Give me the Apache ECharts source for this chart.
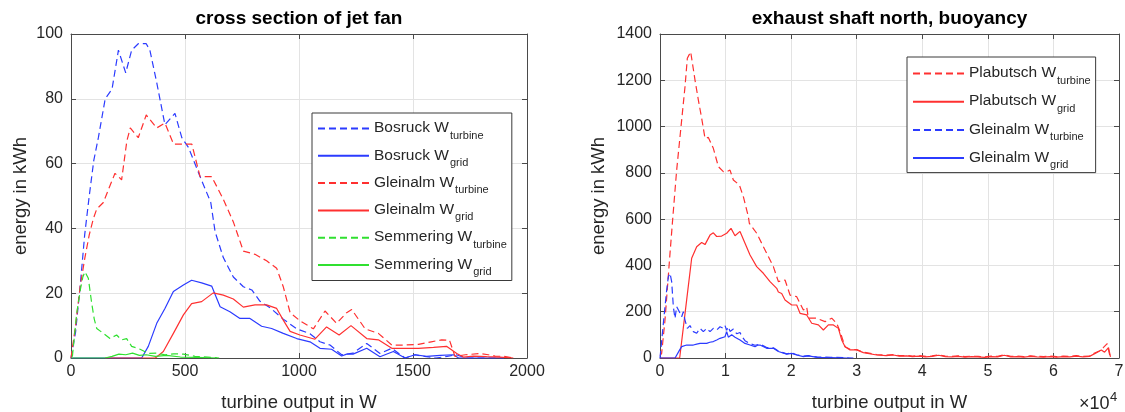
<!DOCTYPE html>
<html>
<head>
<meta charset="utf-8">
<script src="https://cdn.jsdelivr.net/npm/echarts@6/dist/echarts.min.js"></script>
<style>
html,body{margin:0;padding:0;background:#fff;}
#c{width:1125px;height:412px;}
</style>
</head>
<body>
<div id="c"></div>
<script>
// ---------- DATA (left: cross section of jet fan) ----------
const leftXTicks = [0, 500, 1000, 1500, 2000];
const leftYTicks = [0, 20, 40, 60, 80, 100];
const bosruckTurbine = [[0,0],[20,8],[40,22],[60,38],[80,50],[100,61],[120,68],[150,80],[180,83],[208,95],[240,88],[266,95],[295,97],[330,97],[346,95],[376,85],[412,72],[456,75.5],[486,68],[515,65],[566,56],[613,48],[632,39],[668,31],[712,25],[756,22],[793,21],[829,17.5],[873,15.5],[931,12],[990,9],[1048,7.5],[1092,5],[1136,4],[1187,1],[1237,1.5],[1297,4.5],[1355,1.4],[1407,3],[1465,0],[1509,1],[1550,0.5],[1600,0],[1650,0.5],[1690,1],[1730,0],[1900,0]];
const bosruckGrid = [[0,0],[300,0],[310,0],[339,3.6],[376,10.7],[412,15.3],[449,20.5],[493,22.5],[529,24],[573,23.2],[617,22.2],[654,15.8],[697,14.3],[741,12.2],[785,12.2],[836,9.8],[880,9.1],[931,7.6],[990,6],[1048,5],[1092,3],[1143,2.7],[1187,0.6],[1209,1.2],[1237,1.2],[1297,3],[1355,0.4],[1414,2],[1465,0],[1509,1],[1560,0.5],[1620,0.8],[1677,1],[1700,0],[1900,0]];
const gleinalmTurbineL = [[0,0],[20,10],[40,22],[61,31],[80,38],[98,43],[113,46],[142,48],[170,53],[193,57],[222,55],[245,67],[260,71],[295,68],[330,75],[376,71],[412,72.5],[450,66],[500,66],[530,66],[566,56],[617,56],[668,49],[712,42],[734,37.5],[756,33],[807,32],[858,30],[902,27.7],[931,22],[961,14],[1004,11.5],[1063,9],[1114,14.5],[1165,10.7],[1209,14],[1231,15],[1290,9],[1348,7.6],[1407,4],[1465,4],[1524,4.2],[1580,5],[1626,5.6],[1660,5.5],[1684,0.5],[1730,1],[1794,1.4],[1830,1],[1860,0.6],[1900,0.5],[1940,0]];
const gleinalmGridL = [[150,0],[370,0],[405,2],[449,7.6],[493,13.3],[529,16.8],[573,17.4],[624,20.1],[668,19.4],[712,18.2],[756,15.7],[807,16.4],[858,16.4],[902,15.3],[931,11.7],[961,8.2],[1004,7.1],[1070,5.8],[1121,9.6],[1176,7.1],[1228,10],[1297,6],[1348,5.6],[1407,3],[1465,3],[1524,3],[1590,3.3],[1647,3.6],[1692,1.4],[1721,0.3],[1765,0.6],[1823,0.4],[1880,0.3],[1940,0]];
const semmeringTurbine = [[6,0.4],[25,13.8],[42,21.5],[52,25],[61,26.6],[76,24.6],[91,16.8],[102,12],[113,9.1],[142,7.6],[171,6],[200,7.1],[222,5.6],[244,6],[266,3.6],[303,2.7],[339,1.4],[376,1.5],[412,1],[450,1.3],[493,1.2],[544,0.5],[600,0.3],[650,0]];
const semmeringGrid = [[0,0],[150,0],[180,0.5],[210,1.2],[240,1],[270,1.5],[300,0.8],[330,1],[370,0.5],[420,0.8],[480,0.3],[550,0.2],[640,0]];

// ---------- DATA (right: exhaust shaft north, buoyancy) ----------
const rightXTicks = [0, 10000, 20000, 30000, 40000, 50000, 60000, 70000];
const rightYTicks = [0, 200, 400, 600, 800, 1000, 1200, 1400];
const tailGrid = [[33051,13],[34500,10],[35593,13],[36500,8],[37627,9],[38500,6],[39500,8],[40500,5],[41500,7],[42500,12],[43500,6],[44500,5],[45500,7],[46500,4],[47500,6],[48500,5],[49500,3],[50500,6],[51500,5],[52500,12],[53500,5],[54500,6],[55500,4],[56500,7],[57500,5],[58500,4],[59500,6],[60500,4],[61500,6],[62500,5],[63500,8],[64500,5],[65500,7]];
const plabutschTurbineHead = [[0,10],[250,20],[763,164],[1525,452],[1932,599],[2542,812],[3305,1028],[3813,1172],[4168,1295],[4677,1323],[4880,1330],[5339,1201],[5847,1115],[6356,1036],[6864,949],[7373,953],[8135,906],[8898,827],[9660,805],[10170,805],[10678,812],[11186,769],[12101,748],[12711,697],[13474,611],[13626,582],[14745,539],[16017,467],[17288,395],[18051,330],[19068,337],[19831,272],[20848,265],[21865,207],[22374,220],[22628,172],[23899,172],[25170,157],[26187,172],[26950,150],[27458,114],[28221,49],[28984,38],[30000,36],[31017,25]];
const plabutschTurbineTail = [[33051,15],[34500,12],[35593,15],[36500,10],[37627,11],[38500,8],[39500,10],[40500,7],[41500,9],[42500,14],[43500,8],[44500,7],[45500,9],[46500,6],[47500,8],[48500,7],[49500,5],[50500,8],[51500,7],[52500,14],[53500,7],[54500,8],[55500,6],[56500,9],[57500,7],[58500,6],[59500,8],[60500,6],[61500,8],[62500,7],[63500,10],[64500,7],[65500,8],[66200,20],[67000,30],[67600,45],[68200,62],[68600,10]];
const plabutschGridHead = [[0,0],[3000,0],[3305,6],[4067,251],[4830,431],[5593,481],[6356,499],[6864,490],[7627,531],[8135,541],[8643,525],[9406,527],[10170,539],[10831,560],[11440,528],[12203,547],[12965,496],[13728,445],[14745,395],[15762,366],[16780,330],[17797,301],[18051,285],[18560,279],[19068,251],[20085,229],[20848,229],[21356,193],[22374,186],[23136,150],[24153,143],[24916,121],[25679,143],[26441,143],[27204,128],[27712,78],[28221,49],[28984,35],[30000,35],[31017,23]];
const plabutschGridEnd = [[66500,22],[67300,35],[67800,25],[68400,45],[68700,5]];
const gleinalmTurbineR = [[0,0],[254,6],[610,178],[1017,294],[1271,351],[1525,366],[1780,330],[2034,222],[2288,171],[2542,222],[2949,200],[3305,178],[3560,200],[3813,164],[4168,128],[4575,140],[5084,114],[5593,107],[6102,128],[6610,114],[7118,128],[7627,114],[8135,128],[8643,121],[9151,135],[9660,128],[9913,140],[10170,120],[10424,135],[10678,115],[11186,125],[11694,105],[12203,110],[12457,95],[12965,75],[13728,62],[14491,55],[15254,60],[16271,45],[17288,44],[18051,30],[19322,18],[20085,22],[20848,14],[21865,8],[22628,10],[24000,4],[26000,3],[28476,1],[29500,0]];
const gleinalmGridR = [[0,0],[2300,0],[2542,6],[3000,35],[3305,49],[4067,56],[5084,56],[5600,60],[6102,63],[7118,63],[7600,68],[8135,71],[8650,78],[9151,85],[9913,92],[10170,114],[10424,90],[10678,92],[10930,100],[11186,107],[11440,90],[11694,85],[12203,78],[12965,63],[13728,56],[14491,49],[14870,55],[15254,56],[16271,42],[17288,42],[18051,28],[18305,28],[19322,17],[20085,20],[20848,13],[21865,6],[22628,9],[24000,3],[26000,2],[28476,0],[28730,0]];

// legend labels: [main, subscript]
const labels = {
  L_bos_t: ['Bosruck W', 'turbine'],
  L_bos_g: ['Bosruck W', 'grid'],
  L_gle_t: ['Gleinalm W', 'turbine'],
  L_gle_g: ['Gleinalm W', 'grid'],
  L_sem_t: ['Semmering W', 'turbine'],
  L_sem_g: ['Semmering W', 'grid'],
  R_pla_t: ['Plabutsch W', 'turbine'],
  R_pla_g: ['Plabutsch W', 'grid'],
  R_gle_t: ['Gleinalm W', 'turbine'],
  R_gle_g: ['Gleinalm W', 'grid']
};

const FONT = '"Liberation Sans", Arial, Helvetica, sans-serif';
const TXT = '#262626';
const AX = '#4a4a4a';
const BLUE = '#2b3bff', RED = '#ff3030', GREEN = '#30e030';
const DASH = [7, 4];

function mainX(grid, min, max, interval, fmt) {
  return {
    gridIndex: grid, type: 'value', min, max, interval, position: 'bottom',
    name: 'turbine output in W', nameLocation: 'middle', nameGap: 35,
    nameTextStyle: {fontFamily: FONT, fontSize: 18.5, color: TXT},
    axisLine: {show: true, onZero: false, lineStyle: {color: AX}},
    axisTick: {show: true, inside: true, length: 5, lineStyle: {color: AX}},
    axisLabel: {fontFamily: FONT, fontSize: 16, color: TXT, margin: 6, formatter: fmt},
    splitLine: {show: true, lineStyle: {color: '#e3e3e3'}}
  };
}
function secX(grid, min, max, interval) {
  return {
    gridIndex: grid, type: 'value', min, max, interval, position: 'top',
    axisLine: {show: true, onZero: false, lineStyle: {color: AX}},
    axisTick: {show: true, inside: true, length: 5, lineStyle: {color: AX}},
    axisLabel: {show: false}, splitLine: {show: false}
  };
}
function mainY(grid, min, max, interval, gap) {
  return {
    gridIndex: grid, type: 'value', min, max, interval, position: 'left',
    name: 'energy in kWh', nameLocation: 'middle', nameGap: gap,
    nameTextStyle: {fontFamily: FONT, fontSize: 18.5, color: TXT},
    axisLine: {show: true, onZero: false, lineStyle: {color: AX}},
    axisTick: {show: true, inside: true, length: 5, lineStyle: {color: AX}},
    axisLabel: {fontFamily: FONT, fontSize: 16, color: TXT, margin: 8, formatter: v => String(v)},
    splitLine: {show: true, lineStyle: {color: '#e3e3e3'}}
  };
}
function secY(grid, min, max, interval) {
  return {
    gridIndex: grid, type: 'value', min, max, interval, position: 'right',
    axisLine: {show: true, onZero: false, lineStyle: {color: AX}},
    axisTick: {show: true, inside: true, length: 5, lineStyle: {color: AX}},
    axisLabel: {show: false}, splitLine: {show: false}
  };
}
function line(name, data, color, dashed, xi, yi, z) {
  return {
    name, type: 'line', data, xAxisIndex: xi, yAxisIndex: yi,
    symbol: 'none', showSymbol: false, silent: true, animation: false, z: z || 2,
    lineStyle: {color, width: 1.2, type: dashed ? DASH : 'solid'},
    itemStyle: {color}
  };
}
function legendCfg(names, left, top, gap, pad) {
  return {
    data: names, orient: 'vertical', left, top,
    itemWidth: 51, itemHeight: 14, itemGap: gap,
    padding: pad, borderColor: '#3a3a3a', borderWidth: 1, backgroundColor: '#fff',
    selectedMode: false,
    itemStyle: {opacity: 0},
    formatter: n => '{m|' + labels[n][0] + '}{s|' + labels[n][1] + '}',
    textStyle: {
      fontFamily: FONT, color: TXT, padding: [0, 0, 0, 0],
      rich: {
        m: {fontFamily: FONT, fontSize: 15.5, lineHeight: 17, verticalAlign: 'top', color: TXT},
        s: {fontFamily: FONT, fontSize: 11, lineHeight: 12, padding: [10, 0, 0, 1], verticalAlign: 'top', color: TXT}
      }
    }
  };
}

const plabutschTurbine = plabutschTurbineHead.concat(plabutschTurbineTail);
const plabutschGrid = plabutschGridHead.concat(tailGrid, plabutschGridEnd);

const chart = echarts.init(document.getElementById('c'), null, {renderer: 'canvas'});
chart.setOption({
  animation: false,
  backgroundColor: '#fff',
  grid: [
    {left: 71, top: 34, width: 456, height: 324, show: false, containLabel: false, outerBoundsMode: 'none'},
    {left: 660, top: 34, width: 459, height: 324, show: false, containLabel: false, outerBoundsMode: 'none'}
  ],
  xAxis: [
    mainX(0, leftXTicks[0], leftXTicks[leftXTicks.length - 1], leftXTicks[1] - leftXTicks[0], v => String(v)),
    secX(0, leftXTicks[0], leftXTicks[leftXTicks.length - 1], leftXTicks[1] - leftXTicks[0]),
    mainX(1, rightXTicks[0], rightXTicks[rightXTicks.length - 1], rightXTicks[1] - rightXTicks[0], v => String(v / 10000)),
    secX(1, rightXTicks[0], rightXTicks[rightXTicks.length - 1], rightXTicks[1] - rightXTicks[0])
  ],
  yAxis: [
    mainY(0, leftYTicks[0], leftYTicks[leftYTicks.length - 1], leftYTicks[1] - leftYTicks[0], 41),
    secY(0, leftYTicks[0], leftYTicks[leftYTicks.length - 1], leftYTicks[1] - leftYTicks[0]),
    mainY(1, rightYTicks[0], rightYTicks[rightYTicks.length - 1], rightYTicks[1] - rightYTicks[0], 52),
    secY(1, rightYTicks[0], rightYTicks[rightYTicks.length - 1], rightYTicks[1] - rightYTicks[0])
  ],
  legend: [
    legendCfg(['L_bos_t', 'L_bos_g', 'L_gle_t', 'L_gle_g', 'L_sem_t', 'L_sem_g'], 312, 113, 6.3, [7, 5, 3, 5]),
    legendCfg(['R_pla_t', 'R_pla_g', 'R_gle_t', 'R_gle_g'], 907, 57, 7.2, [8, 5, 2, 5])
  ],
  series: [
    line('L_bos_t', bosruckTurbine, BLUE, true, 0, 0),
    line('L_bos_g', bosruckGrid, BLUE, false, 0, 0),
    line('L_gle_t', gleinalmTurbineL, RED, true, 0, 0),
    line('L_gle_g', gleinalmGridL, RED, false, 0, 0),
    line('L_sem_t', semmeringTurbine, GREEN, true, 0, 0),
    line('L_sem_g', semmeringGrid, GREEN, false, 0, 0),
    line('R_pla_t', plabutschTurbine, RED, true, 2, 2),
    line('R_pla_g', plabutschGrid, RED, false, 2, 2),
    line('R_gle_t', gleinalmTurbineR, BLUE, true, 2, 2),
    line('R_gle_g', gleinalmGridR, BLUE, false, 2, 2)
  ],
  graphic: [
    {type: 'text', z: 10, silent: true, x: 299, y: 18.5,
      style: {text: 'cross section of jet fan', fontFamily: FONT, fontSize: 19, fontWeight: 'bold', fill: '#000', textAlign: 'center', textVerticalAlign: 'middle'}},
    {type: 'text', z: 10, silent: true, x: 889.5, y: 18.5,
      style: {text: 'exhaust shaft north, buoyancy', fontFamily: FONT, fontSize: 19, fontWeight: 'bold', fill: '#000', textAlign: 'center', textVerticalAlign: 'middle'}},
    {type: 'text', z: 10, silent: true, x: 1079, y: 404,
      style: {text: '×10', fontFamily: FONT, fontSize: 18, fill: TXT, textAlign: 'left', textVerticalAlign: 'middle'}},
    {type: 'text', z: 10, silent: true, x: 1110, y: 397,
      style: {text: '4', fontFamily: FONT, fontSize: 13, fill: TXT, textAlign: 'left', textVerticalAlign: 'middle'}}
  ]
});
</script>
</body>
</html>
